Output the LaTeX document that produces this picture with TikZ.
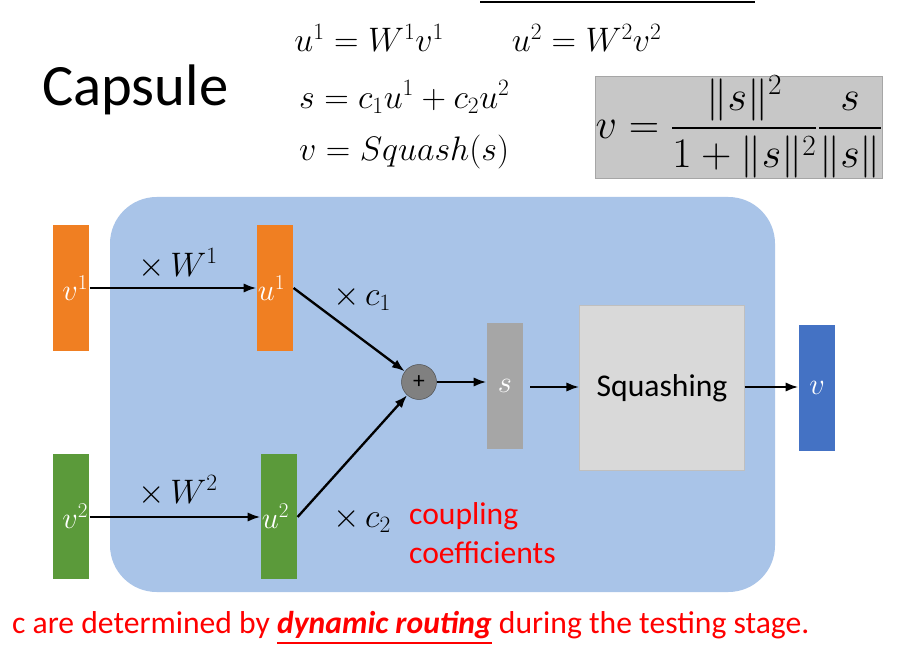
\RequirePackage{fix-cm}
\documentclass[tikz,border=0pt]{standalone}
\usepackage{fontspec}
\setmainfont{Carlito}
\usepackage{amsmath}
\usetikzlibrary{arrows.meta}
\definecolor{orng}{HTML}{F07F22}
\definecolor{grn}{HTML}{5B9A3A}
\definecolor{bl}{HTML}{4472C4}
\definecolor{capbg}{HTML}{A9C4E8}
\DeclareMathSizes{29}{29}{20}{14}
\DeclareMathSizes{36}{36}{25}{18}
\DeclareMathSizes{26}{26}{18}{13}
\begin{document}
\begin{tikzpicture}[x=0.03cm,y=-0.03cm,
  vec/.style={draw=none,minimum width=1.1cm,minimum height=3.75cm,inner sep=0pt},
  lab/.style={text=white,font=\fontsize{26}{28}\selectfont,inner sep=1pt},
  arr/.style={-{Latex[length=11pt,width=8pt]},line width=2pt},
  eq/.style={font=\fontsize{29}{32}\selectfont}]
\useasboundingbox (0,0) rectangle (898,651);
\fill[white] (0,0) rectangle (898,651);
\draw[line width=1pt] (480,2) -- (755,2);
\node[anchor=west,font=\fontsize{50}{54}\selectfont] (cap) at (38,90) {Capsule};
\node[eq] (e1) at (478,38) {$u^1=W^1v^1\qquad u^2=W^2v^2$};
\node[eq,anchor=west] (e2) at (295,97) {$s=c_1u^1+c_2u^2$};
\node[eq,anchor=west] (e3) at (295,152) {$v=Squash(s)$};
\node[fill=black!22,draw=black!35,minimum width=8.5cm,minimum height=2.85cm,inner sep=0pt,font=\fontsize{36}{40}\selectfont] (sq) at (739,127) {$v=\dfrac{\|s\|^2}{1+\|s\|^2}\dfrac{s}{\|s\|}$};
\fill[capbg,rounded corners=1.4cm] (110,197) rectangle (775,592);
\node[vec,fill=orng] (v1) at (71,288) {};
\node[vec,fill=orng] (u1) at (275,288) {};
\node[vec,fill=grn] (v2) at (71,516) {};
\node[vec,fill=grn] (u2) at (279,516) {};
\node[lab,anchor=east] at (v1.east) {$v^1$};
\node[lab,anchor=west] at (u1.west) {$u^1$};
\node[lab,anchor=east] at (v2.east) {$v^2$};
\node[lab,anchor=west] at (u2.west) {$u^2$};
\node[circle,fill=black!50,draw=black!70,minimum size=1.05cm,inner sep=0pt,font=\fontsize{20}{22}\selectfont] (p) at (419,382) {+};
\node[vec,fill=black!35] (s) at (505,386) {};
\node[lab] at (s) {$s$};
\node[fill=black!15,draw=black!25,minimum width=4.95cm,minimum height=4.95cm,font=\fontsize{27}{30}\selectfont] (sqb) at (662,388) {Squashing};
\node[vec,fill=bl] (v) at (817,388) {};
\node[lab] at (v) {$v$};
\draw[arr] (v1.east |- 0,288) -- (u1.west |- 0,288);
\draw[arr] (v2.east |- 0,517) -- (u2.west |- 0,517);
\draw[arr] (u1.east |- 0,288) -- (p);
\draw[arr] (u2.east |- 0,517) -- (p);
\draw[arr] (p.east) -- (s.west |- p.east);
\draw[arr] (530,387) -- (sqb.west |- 0,387);
\draw[arr] (sqb.east |- 0,387) -- (v.west |- 0,387);
\node[eq] (w1) at (178,264) {$\times\,W^1$};
\node[eq] (w2) at (178,491) {$\times\,W^2$};
\node[eq] (c1) at (362,298) {$\times\,c_1$};
\node[eq] (c2) at (362,520) {$\times\,c_2$};
\node[anchor=north west,text=red,align=left,font=\fontsize{27}{34}\selectfont] (cc) at (405,498) {coupling\\coefficients};
\node[anchor=west,text=red,font=\fontsize{27}{30}\selectfont] (bt) at (8,628) {c are determined by \underline{\textbf{\textit{dynamic routing}}} during the testing stage.};
\end{tikzpicture}
\end{document}
